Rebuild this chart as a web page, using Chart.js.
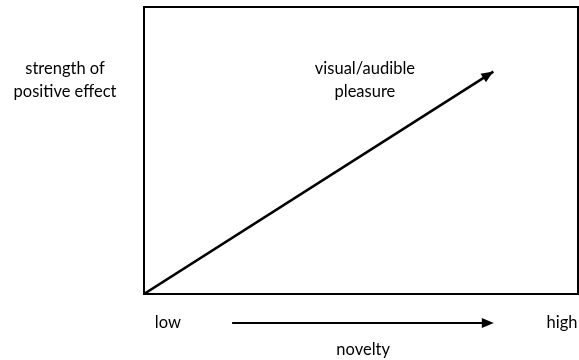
<!DOCTYPE html>
<html>
<head>
<meta charset="utf-8">
<script src="https://cdn.jsdelivr.net/npm/chart.js@4"></script>
<style>
  body { margin: 0; background: #fff; }
  canvas { display: block; }
</style>
</head>
<body>
<canvas id="chart" width="579" height="360"></canvas>
<script>
// pleasure rises with novelty
const novelty = [0, 0.805]
const pleasure = [0, 0.775]

const yTitle = ["strength of", "positive effect"]
const lineLabel = ["visual/audible", "pleasure"]
const xLabels = ["low", "high"]
const xTitle = "novelty"

const font = "16.5px Lato, 'Open Sans', sans-serif"

function arrowHead(ctx, x1, y1, x2, y2, size) {
  const a = Math.atan2(y2 - y1, x2 - x1)
  ctx.beginPath()
  ctx.moveTo(x2, y2)
  ctx.lineTo(x2 - size * Math.cos(a - 0.4), y2 - size * Math.sin(a - 0.4))
  ctx.lineTo(x2 - size * Math.cos(a + 0.4), y2 - size * Math.sin(a + 0.4))
  ctx.closePath()
  ctx.fill()
}

const diagram = {
  id: "diagram",
  afterDatasetsDraw(chart) {
    const { ctx, chartArea: area, scales: { x, y } } = chart
    ctx.save()
    ctx.strokeStyle = "#000"
    ctx.fillStyle = "#000"

    // frame
    ctx.lineWidth = 2
    ctx.strokeRect(area.left, area.top, area.right - area.left, area.bottom - area.top)

    // head on the diagonal
    const meta = chart.getDatasetMeta(0).data
    const p0 = meta[meta.length - 2], p1 = meta[meta.length - 1]
    arrowHead(ctx, p0.x, p0.y, p1.x, p1.y, 13)

    ctx.font = font
    ctx.textAlign = "center"
    ctx.textBaseline = "middle"

    // left label
    const ly = y.getPixelForValue(0.785)
    yTitle.forEach((t, i) => ctx.fillText(t, 65, ly + i * 23))

    // label in the plot
    const cx = x.getPixelForValue(0.509)
    lineLabel.forEach((t, i) => ctx.fillText(t, cx, ly + i * 23))

    // novelty axis
    const by = area.bottom + 29
    ctx.fillText(xLabels[0], x.getPixelForValue(0.055), by)
    ctx.fillText(xLabels[1], x.getPixelForValue(0.963), by)
    ctx.fillText(xTitle, x.getPixelForValue(0.505), area.bottom + 56)

    const ax1 = x.getPixelForValue(0.203), ax2 = x.getPixelForValue(0.806)
    ctx.lineWidth = 2
    ctx.beginPath()
    ctx.moveTo(ax1, by)
    ctx.lineTo(ax2 - 8, by)
    ctx.stroke()
    arrowHead(ctx, ax1, by, ax2, by, 13)
    ctx.restore()
  }
}

new Chart(document.getElementById("chart"), {
  type: "scatter",
  data: {
    datasets: [{
      data: novelty.map((v, i) => ({ x: v, y: pleasure[i] })),
      showLine: true,
      borderColor: "#000",
      borderWidth: 2.5,
      pointRadius: 0
    }]
  },
  options: {
    responsive: false,
    animation: false,
    layout: { padding: { left: 144, right: 1, top: 7, bottom: 66 } },
    plugins: { legend: { display: false }, tooltip: { enabled: false } },
    scales: {
      x: { min: 0, max: 1, display: false },
      y: { min: 0, max: 1, display: false }
    }
  },
  plugins: [diagram]
})
</script>
</body>
</html>
